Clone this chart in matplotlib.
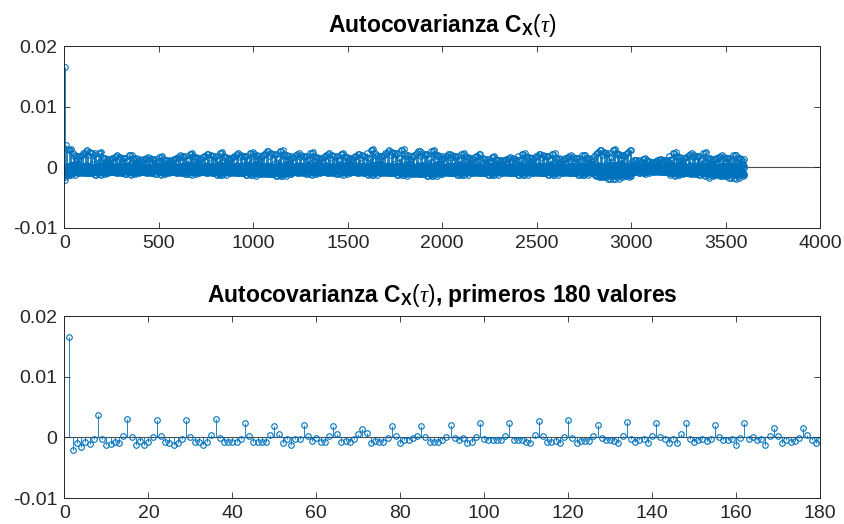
import numpy as np
import matplotlib.pyplot as plt

plt.rcParams['font.family'] = ['Liberation Sans', 'DejaVu Sans']
plt.rcParams['mathtext.fontset'] = 'custom'
plt.rcParams['mathtext.rm'] = 'Liberation Sans'
plt.rcParams['mathtext.bf'] = 'Liberation Sans:bold'
plt.rcParams['mathtext.it'] = 'Liberation Serif:italic'
plt.rcParams['axes.unicode_minus'] = False

# first 180 autocovariance values (lag index 1..180)
acov180 = [
    0.0165, -0.0021, -0.0010, -0.0016, -0.0008, -0.0011, -0.0003, 0.0037, -0.0002, -0.0013,
    -0.0011, -0.0008, -0.0010, 0.0003, 0.0030, 0.0001, -0.0013, -0.0006, -0.0013, -0.0007,
    0.0000, 0.0028, 0.0002, -0.0008, -0.0009, -0.0012, -0.0009, -0.0002, 0.0028, 0.0001,
    -0.0007, -0.0008, -0.0013, -0.0008, 0.0004, 0.0030, -0.0001, -0.0008, -0.0008, -0.0008,
    -0.0008, -0.0002, 0.0023, 0.0003, -0.0007, -0.0008, -0.0008, -0.0007, 0.0004, 0.0019,
    0.0005, -0.0010, -0.0003, -0.0012, -0.0003, -0.0002, 0.0021, 0.0003, -0.0006, -0.0001,
    -0.0008, -0.0008, 0.0002, 0.0019, 0.0005, -0.0008, -0.0006, -0.0008, -0.0003, 0.0005,
    0.0014, 0.0007, -0.0010, -0.0006, -0.0007, -0.0007, -0.0001, 0.0019, 0.0002, -0.0009,
    -0.0004, -0.0005, -0.0001, 0.0002, 0.0018, 0.0001, -0.0008, -0.0008, -0.0008, -0.0004,
    0.0001, 0.0021, -0.0001, -0.0004, -0.0001, -0.0009, -0.0008, 0.0001, 0.0023, -0.0003,
    -0.0005, -0.0005, -0.0005, -0.0004, 0.0002, 0.0024, -0.0005, -0.0005, -0.0005, -0.0008,
    -0.0010, 0.0004, 0.0027, 0.0002, -0.0008, -0.0008, -0.0006, -0.0009, 0.0001, 0.0028,
    -0.0001, -0.0010, -0.0006, -0.0006, -0.0006, 0.0002, 0.0020, -0.0001, -0.0005, -0.0005,
    -0.0006, -0.0009, 0.0002, 0.0025, -0.0003, -0.0008, -0.0005, -0.0003, -0.0010, 0.0002,
    0.0023, 0.0000, -0.0002, -0.0009, -0.0003, -0.0010, 0.0005, 0.0023, -0.0002, -0.0008,
    -0.0004, -0.0003, -0.0006, -0.0002, 0.0021, 0.0000, -0.0005, -0.0005, -0.0002, -0.0012,
    -0.0001, 0.0023, -0.0002, 0.0000, -0.0005, -0.0003, -0.0012, 0.0003, 0.0015, 0.0003,
    -0.0009, -0.0004, -0.0008, -0.0006, -0.0001, 0.0016, 0.0004, -0.0005, -0.0009, -0.0004,
]

# band limits of the full series (upper panel), per block of 200 lags
nTotal = 3600
blockSize = 200
upperEnv = [0.0025, 0.0021, 0.0018, 0.0024, 0.0025, 0.0029, 0.0025, 0.0024, 0.0030,
            0.0029, 0.0024, 0.0018, 0.0024, 0.0021, 0.0031, 0.0015, 0.0025, 0.0021]
lowerEnv = [-0.0012, -0.0012, -0.0012, -0.0012, -0.0013, -0.0015, -0.0012, -0.0012, -0.0013,
            -0.0015, -0.0013, -0.0013, -0.0013, -0.0013, -0.0020, -0.0011, -0.0014, -0.0019]

topTicks = [0, 500, 1000, 1500, 2000, 2500, 3000, 3500, 4000]
bottomTicks = list(range(0, 181, 20))
yTicks = [-0.01, 0, 0.01, 0.02]
yTickLabels = ['-0.01', '0', '0.01', '0.02']

# full series: the read 180 values, then the same lag pattern held inside the read band
pattern = np.array(acov180[20:])
pmax, pmin = pattern.max(), pattern.min()
full = np.empty(nTotal)
full[:180] = acov180
for k in range(180, nTotal):
    b = min(k // blockSize, len(upperEnv) - 1)
    p = pattern[(k - 180) % len(pattern)]
    full[k] = p / pmax * upperEnv[b] if p > 0 else p / pmin * lowerEnv[b]

blue = '#0072BD'
dark = '#262626'


def stemPlot(ax, x, y, xmax, xticks, title):
    ml, sl, bl = ax.stem(x, y, basefmt=' ')
    plt.setp(sl, color=blue, linewidth=0.6)
    plt.setp(ml, color=blue, marker='o', markerfacecolor='none', markersize=4, markeredgewidth=0.8)
    ax.axhline(0, color='#4d4d4d', linewidth=0.8, zorder=0)
    ax.set_xlim(0, xmax)
    ax.set_ylim(-0.01, 0.02)
    ax.set_xticks(xticks)
    ax.set_yticks(yTicks)
    ax.set_yticklabels(yTickLabels)
    ax.tick_params(direction='in', top=True, right=True, length=4.5, width=0.6,
                   labelsize=14, colors=dark, pad=5)
    for s in ax.spines.values():
        s.set_color(dark)
        s.set_linewidth(0.7)
    ax.set_title(title, fontsize=16.5, fontweight='bold', color='black', pad=10)


fig = plt.figure(figsize=(8.44, 5.24), dpi=100)
ax1 = fig.add_axes([0.0764, 0.5649, 0.8951, 0.3473])
ax2 = fig.add_axes([0.0764, 0.0496, 0.8951, 0.3473])

stemPlot(ax1, np.arange(1, nTotal + 1), full, 4000, topTicks,
         r'Autocovarianza C$_{\mathbf{X}}(\tau)$')
stemPlot(ax2, np.arange(1, 181), acov180, 180, bottomTicks,
         r'Autocovarianza C$_{\mathbf{X}}(\tau)$, primeros 180 valores')

fig.savefig('out.png', dpi=100)
